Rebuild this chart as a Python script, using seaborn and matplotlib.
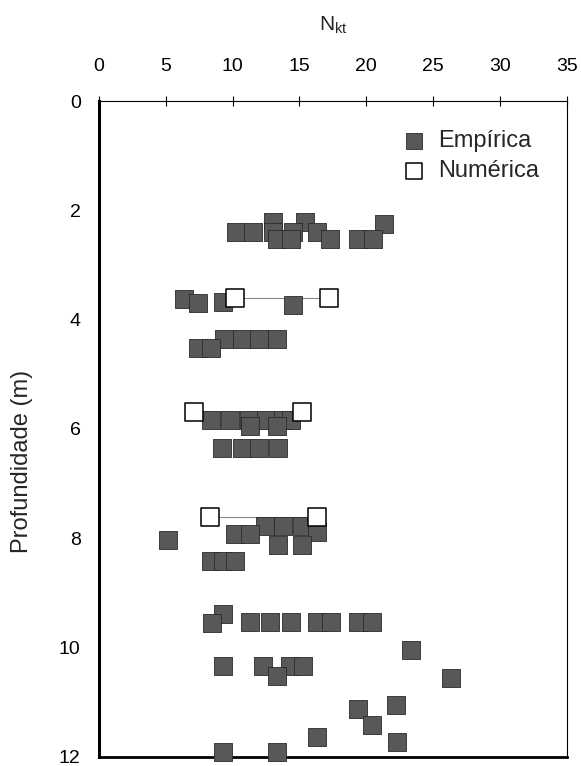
import matplotlib
matplotlib.use("Agg")
import matplotlib.pyplot as plt
import seaborn as sns
import pandas as pd

sns.set_theme(style="white")
plt.rcParams["font.family"] = ["Liberation Sans", "DejaVu Sans"]

# Empirical Nkt values by depth (m)
emp_depth = [2.22, 2.22, 2.24,
             2.39, 2.39, 2.39, 2.39, 2.39,
             2.53, 2.53, 2.52, 2.52, 2.52,
             3.62, 3.70, 3.67, 3.74,
             4.35, 4.35, 4.35, 4.35,
             4.52, 4.52,
             5.83, 5.83, 5.83, 5.83, 5.83, 5.83,
             5.94, 5.94,
             6.34, 6.34, 6.34, 6.34,
             7.78, 7.78, 7.78, 7.88,
             7.93, 7.93,
             8.04,
             8.13, 8.13,
             8.41, 8.41, 8.41,
             9.39, 9.56,
             9.53, 9.53, 9.53, 9.53, 9.53, 9.53, 9.53,
             10.04,
             10.34, 10.34, 10.34, 10.34,
             10.52, 10.55,
             11.06, 11.13, 11.42, 11.63, 11.72,
             11.92, 11.92]
emp_nkt = [13.0, 15.4, 21.3,
           10.25, 11.5, 13.0, 14.5, 16.3,
           13.3, 14.4, 17.3, 19.4, 20.5,
           6.4, 7.4, 9.3, 14.5,
           9.35, 10.7, 12.0, 13.3,
           7.4, 8.4,
           8.4, 9.8, 11.2, 12.5, 13.8, 14.4,
           11.3, 13.3,
           9.2, 10.7, 12.0, 13.4,
           12.4, 13.8, 15.2, 16.3,
           10.2, 11.3,
           5.2,
           13.4, 15.2,
           8.4, 9.3, 10.15,
           9.3, 8.45,
           11.3, 12.8, 14.4, 16.3, 17.35, 19.4, 20.4,
           23.3,
           9.25, 12.3, 14.3, 15.3,
           13.3, 26.3,
           22.2, 19.4, 20.4, 16.3, 22.3,
           9.25, 13.3]

# Numerical Nkt range (min / max) at each analysed depth
num_depth = [3.60, 5.69, 7.61]
num_min = [10.2, 7.1, 8.3]
num_max = [17.2, 15.2, 16.3]

x_ticks = [0, 5, 10, 15, 20, 25, 30, 35]
y_ticks = [0, 2, 4, 6, 8, 10, 12]

emp = pd.DataFrame({"Nkt": emp_nkt, "z": emp_depth})
num = pd.DataFrame({
    "Nkt": num_min + num_max,
    "z": num_depth + num_depth,
    "par": list(range(len(num_depth))) * 2,
})

fig = plt.figure(figsize=(5.81, 7.66), dpi=100)
ax = fig.add_axes([0.170, 0.012, 0.806, 0.856])

# thin connectors between numerical bounds
for _, g in num.groupby("par"):
    ax.plot(g["Nkt"], g["z"], color="#8a8a8a", lw=0.8, zorder=2)

sns.scatterplot(data=emp, x="Nkt", y="z", marker="s", s=165,
                color="#585858", edgecolor="#2a2a2a", linewidth=0.6,
                label="Empírica", ax=ax, zorder=3, clip_on=False)
sns.scatterplot(data=num, x="Nkt", y="z", marker="s", s=165,
                color="white", edgecolor="black", linewidth=1.1,
                label="Numérica", ax=ax, zorder=4, clip_on=False)

ax.set_xlim(0, 35)
ax.set_ylim(12, 0)
ax.set_xticks(x_ticks)
ax.set_yticks(y_ticks)
ax.xaxis.tick_top()
ax.xaxis.set_label_position("top")

ax.set_xlabel("N$_{\\mathregular{kt}}$", fontsize=15)
ax.xaxis.set_label_coords(0.5, 1.108)
ax.xaxis.label.set_va("baseline")

ax.set_ylabel("Profundidade (m)", fontsize=17)
ax.yaxis.set_label_coords(-0.163, 0.45)
ax.yaxis.label.set_va("center")

ax.tick_params(axis="both", labelsize=14, colors="black", width=0.8)
ax.tick_params(axis="x", direction="inout", length=7, pad=15.5)
ax.tick_params(axis="y", direction="out", length=3.6, pad=9.4)

for side, lw in {"left": 2.2, "bottom": 2.0, "top": 0.8, "right": 0.8}.items():
    ax.spines[side].set_visible(True)
    ax.spines[side].set_color("black")
    ax.spines[side].set_linewidth(lw)

leg = ax.legend(loc="upper left", bbox_to_anchor=(0.647, 0.956), frameon=False,
                fontsize=17, handlelength=1.0, handletextpad=0.54,
                labelspacing=0.35, borderpad=0, borderaxespad=0,
                markerscale=0.85)

fig.savefig("out.png", dpi=100)
